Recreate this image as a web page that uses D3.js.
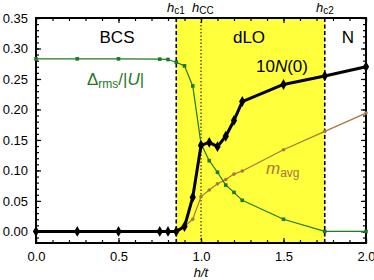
<!DOCTYPE html>
<html>
<head>
<meta charset="utf-8">
<script src="https://cdn.jsdelivr.net/npm/d3@7"></script>
<style>
  body { margin: 0; background: #fff; }
  svg { display: block; font-family: "Liberation Sans", Arial, sans-serif; }
</style>
</head>
<body>
<svg id="chart" width="374" height="280"></svg>
<script>
// dades llegides de la figura
const hN = [0, 0.25, 0.5, 0.75, 0.8, 0.85, 0.9, 0.95, 1.0, 1.05, 1.1, 1.15, 1.2, 1.25, 1.5, 1.75, 2.0];
const valN = [0, 0, 0, 0, 0, 0, 0.008, 0.056, 0.141, 0.146, 0.139, 0.156, 0.182, 0.213, 0.241, 0.255, 0.270];

const hDelta = [0, 0.25, 0.5, 0.75, 0.8, 0.85, 0.9, 0.95, 1.0, 1.05, 1.1, 1.15, 1.2, 1.25, 1.5, 1.75, 2.0];
const valDelta = [0.283, 0.283, 0.283, 0.2825, 0.282, 0.2775, 0.2715, 0.2386, 0.1436, 0.116, 0.097, 0.076, 0.064, 0.051, 0.020, 0.0, 0.0];

const hM = [0.85, 0.9, 0.95, 1.0, 1.05, 1.1, 1.15, 1.2, 1.25, 1.5, 1.75, 2.0];
const valM = [0, 0.008, 0.020, 0.057, 0.068, 0.078, 0.085, 0.094, 0.099, 0.134, 0.164, 0.194];

const hc1 = 0.85, hCC = 1.0, hc2 = 1.75;
const xTicks = [0, 0.5, 1.0, 1.5, 2.0];
const yTicks = [0, 0.05, 0.10, 0.15, 0.20, 0.25, 0.30, 0.35];

const margin = { top: 18, right: 8, bottom: 37, left: 36 },
      width = 374 - margin.left - margin.right,
      height = 280 - margin.top - margin.bottom;

const svg = d3.select("#chart")
    .append("g")
    .attr("transform", `translate(${margin.left},${margin.top})`);

const x = d3.scaleLinear().domain([0, 2]).range([0, width]);
const y = d3.scaleLinear().domain([-0.019, 0.35]).range([height, 0]);

const green = "#1f7a1f", brown = "#a8763e";

// zona groga (dLO)
svg.append("rect")
    .attr("x", x(hc1)).attr("y", 0)
    .attr("width", x(hc2) - x(hc1)).attr("height", height)
    .attr("fill", "#ffff3c");

// línies verticals
[hc1, hc2].forEach(h => {
    svg.append("line")
        .attr("x1", x(h)).attr("x2", x(h)).attr("y1", 0).attr("y2", height)
        .attr("stroke", "#000").attr("stroke-width", 1.6)
        .attr("stroke-dasharray", "4,2.5");
});
svg.append("line")
    .attr("x1", x(hCC)).attr("x2", x(hCC)).attr("y1", 0).attr("y2", height)
    .attr("stroke", "#000").attr("stroke-width", 1)
    .attr("stroke-dasharray", "1.5,2");

// Eixos (ticks cap a dins)
const minorX = d3.range(0, 2.0001, 0.1).map(d => +d.toFixed(2));
const minorY = d3.range(-0.01, 0.3501, 0.01).map(d => +d.toFixed(3));

svg.append("g")
    .attr("transform", `translate(0,${height})`)
    .call(d3.axisBottom(x).tickValues(minorX).tickSize(-3).tickFormat(""));
svg.append("g")
    .attr("transform", `translate(0,${height})`)
    .call(d3.axisBottom(x).tickValues(xTicks).tickSize(-5).tickPadding(9).tickFormat(d3.format(".1f")));
svg.append("g")
    .call(d3.axisTop(x).tickValues(minorX).tickSize(-3).tickFormat(""));
svg.append("g")
    .call(d3.axisTop(x).tickValues(xTicks).tickSize(-5).tickFormat(""));

svg.append("g")
    .call(d3.axisLeft(y).tickValues(minorY).tickSize(-3).tickFormat(""));
svg.append("g")
    .call(d3.axisLeft(y).tickValues(yTicks).tickSize(-5).tickPadding(8).tickFormat(d3.format(".2f")));
svg.append("g")
    .attr("transform", `translate(${width},0)`)
    .call(d3.axisRight(y).tickValues(minorY).tickSize(-3).tickFormat(""));
svg.append("g")
    .attr("transform", `translate(${width},0)`)
    .call(d3.axisRight(y).tickValues(yTicks).tickSize(-5).tickFormat(""));

svg.selectAll(".domain").remove();
svg.selectAll(".tick line").attr("stroke", "#000").attr("stroke-width", 1.2);
svg.selectAll(".tick text").attr("font-size", "13px").attr("fill", "#000")
    .attr("font-family", "Liberation Sans, Arial, sans-serif");

// marc
svg.append("rect")
    .attr("width", width).attr("height", height)
    .attr("fill", "none").attr("stroke", "#000").attr("stroke-width", 2);

// Sèries
function series(xs, ys, color, lw) {
    const pts = xs.map((h, i) => [h, ys[i]]);
    svg.append("path")
        .datum(pts)
        .attr("fill", "none").attr("stroke", color).attr("stroke-width", lw)
        .attr("stroke-linejoin", "round")
        .attr("d", d3.line().x(d => x(d[0])).y(d => y(d[1])));
    return pts;
}

const ptsM = series(hM, valM, brown, 1.2);
svg.selectAll(".mpt").data(ptsM).enter().append("circle")
    .attr("cx", d => x(d[0])).attr("cy", d => y(d[1])).attr("r", 1.8)
    .attr("fill", brown);

const ptsD = series(hDelta, valDelta, green, 1.2);
svg.selectAll(".dpt").data(ptsD).enter().append("rect")
    .attr("x", d => x(d[0]) - 1.8).attr("y", d => y(d[1]) - 1.8)
    .attr("width", 3.6).attr("height", 3.6)
    .attr("fill", green);

const ptsN = series(hN, valN, "#000", 3);
svg.selectAll(".npt").data(ptsN).enter().append("path")
    .attr("transform", d => `translate(${x(d[0])},${y(d[1])})`)
    .attr("d", d3.symbol(d3.symbolDiamond, 34))
    .attr("fill", "#000");

// Etiquetes
const big = "17px";
svg.append("text").attr("x", 117 - margin.left).attr("y", 43 - margin.top)
    .attr("text-anchor", "middle").attr("font-size", big).text("BCS");
svg.append("text").attr("x", 249 - margin.left).attr("y", 43 - margin.top)
    .attr("text-anchor", "middle").attr("font-size", big).text("dLO");
svg.append("text").attr("x", 348 - margin.left).attr("y", 43 - margin.top)
    .attr("text-anchor", "middle").attr("font-size", big).text("N");

const tN = svg.append("text").attr("x", 256 - margin.left).attr("y", 72 - margin.top)
    .attr("font-size", big);
tN.append("tspan").text("10");
tN.append("tspan").attr("font-style", "italic").text("N");
tN.append("tspan").text("(0)");

const tD = svg.append("text").attr("x", 87 - margin.left).attr("y", 85 - margin.top)
    .attr("font-size", big).attr("fill", green);
tD.append("tspan").text("Δ");
tD.append("tspan").attr("font-size", "12px").attr("dy", 3).text("rms");
tD.append("tspan").attr("dy", -3).text("/|");
tD.append("tspan").attr("font-style", "italic").text("U");
tD.append("tspan").text("|");

const tM = svg.append("text").attr("x", 266 - margin.left).attr("y", 174 - margin.top)
    .attr("font-size", big).attr("fill", brown);
tM.append("tspan").attr("font-style", "italic").text("m");
tM.append("tspan").attr("font-size", "12px").attr("dy", 3).text("avg");

// etiquetes superiors
function hLabel(xpos, sub) {
    const t = svg.append("text").attr("x", xpos - margin.left).attr("y", 12 - margin.top)
        .attr("font-size", "13px");
    t.append("tspan").attr("font-style", "italic").text("h");
    t.append("tspan").attr("font-size", "10px").attr("dy", 2).text(sub);
}
hLabel(167, "c1");
hLabel(192, "CC");
hLabel(316, "c2");

// eix X
const tx = svg.append("text").attr("x", width / 2).attr("y", 277 - margin.top)
    .attr("text-anchor", "middle").attr("font-size", "13px").attr("font-style", "italic");
tx.text("h/t");
</script>
</body>
</html>
